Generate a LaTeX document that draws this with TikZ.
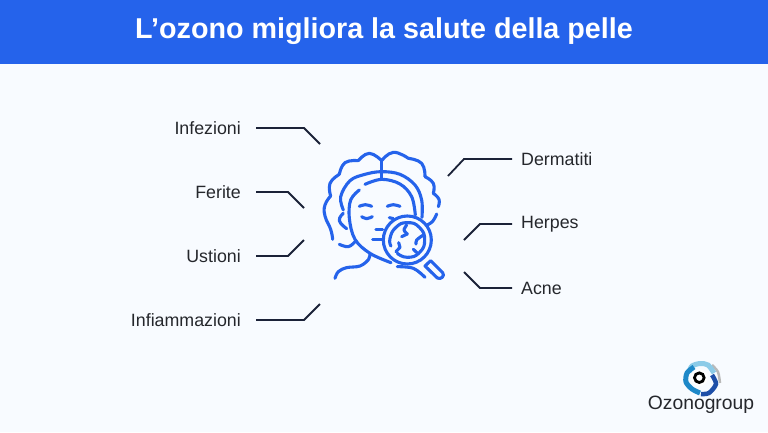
\documentclass[tikz,border=0pt]{standalone}
\usepackage{fontspec}
\setmainfont{Liberation Sans}
\usepackage{tikz}
\definecolor{headblue}{HTML}{2563EB}
\definecolor{pageback}{HTML}{F8FBFF}
\definecolor{wirenavy}{HTML}{1B2238}
\definecolor{labelgrey}{HTML}{25272C}
\definecolor{logolight}{HTML}{8CCBE8}
\definecolor{logomid}{HTML}{1E88C8}
\definecolor{logodark}{HTML}{1E4FA8}
\tikzset{
  lblleft/.style={anchor=east, inner xsep=15pt, inner ysep=0pt, text=labelgrey, font=\fontsize{17.8}{20}\selectfont},
  lblright/.style={anchor=west, inner xsep=9pt, inner ysep=0pt, text=labelgrey, font=\fontsize{17.8}{20}\selectfont},
  wire/.style={draw=wirenavy, line width=1.8pt},
  icon/.style={draw=headblue, line width=3.1pt, line cap=round, line join=round}
}

\begin{document}
\begin{tikzpicture}[x=1pt,y=-1pt]
\useasboundingbox (0,0) rectangle (768,432);
\fill[pageback] (0,0) rectangle (768,432);
\fill[headblue] (0,0) rectangle (768,64);
\node[text=white, font=\fontsize{28.7}{32}\selectfont\bfseries] (title) at (384,31) {L’ozono migliora la salute della pelle};

\node[lblleft] (infezioni) at (256,128) {Infezioni}; \coordinate (infezioniend) at (320,144);
\node[lblleft] (ferite) at (256,192) {Ferite}; \coordinate (feriteend) at (304,208);
\node[lblleft] (ustioni) at (256,256) {Ustioni}; \coordinate (ustioniend) at (304,240);
\node[lblleft] (infiammazioni) at (256,320) {Infiammazioni}; \coordinate (infiammazioniend) at (320,304);
\node[lblright] (dermatiti) at (512,159) {Dermatiti}; \coordinate (dermatitiend) at (448,176);
\node[lblright] (herpes) at (512,224) {Herpes}; \coordinate (herpesend) at (464,240);
\node[lblright] (acne) at (512,288) {Acne}; \coordinate (acneend) at (464,272);

\draw[wire] (infezioni.east) -- ++(48,0) -- (infezioniend);
\draw[wire] (ferite.east) -- ++(32,0) -- (feriteend);
\draw[wire] (ustioni.east) -- ++(32,0) -- (ustioniend);
\draw[wire] (infiammazioni.east) -- ++(48,0) -- (infiammazioniend);
\draw[wire] (dermatiti.west) -- ++(-48,0) -- (dermatitiend);
\draw[wire] (herpes.west) -- ++(-32,0) -- (herpesend);
\draw[wire] (acne.west) -- ++(-32,0) -- (acneend);

% face
\begin{scope}[shift={(310,140)}, x=0.3333pt, y=-0.3333pt]
\draw[icon] plot[smooth, tension=0.8] coordinates {(68,298) (62,268) (45,228) (45,195) (62,168)};
\draw[icon] plot[smooth, tension=0.8] coordinates {(62,168) (60,130) (88,103)};
\draw[icon] plot[smooth, tension=0.8] coordinates {(88,103) (105,68) (145,62)};
\draw[icon] plot[smooth, tension=0.8] coordinates {(145,62) (178,40) (215,62)};
\draw[icon] plot[smooth, tension=0.8] coordinates {(215,62) (250,37) (295,55)};
\draw[icon] plot[smooth, tension=0.8] coordinates {(295,55) (335,70) (345,110)};
\draw[icon] plot[smooth, tension=0.8] coordinates {(345,110) (370,130) (370,160)};
\draw[icon] plot[smooth, tension=0.8] coordinates {(370,160) (387,178) (385,200)};
\draw[icon] (215,62) -- (215,118);
\draw[icon] plot[smooth, tension=0.6] coordinates {(100,210) (92,170) (120,122) (165,103) (215,95) (270,103) (315,135) (335,180) (336,232)};
\draw[icon] plot[smooth, tension=0.6] coordinates {(165,133) (215,118) (270,132) (305,170) (316,225)};
\draw[icon] plot[smooth, tension=0.6] coordinates {(148,150) (122,180) (118,235) (135,298) (180,340) (243,368)};
\draw[icon] plot[smooth, tension=0.8] coordinates {(100,220) (88,242) (110,266)};
\draw[icon] plot[smooth, tension=0.6] coordinates {(180,340) (176,358) (150,378) (110,383) (85,395) (75,415)};
\draw[icon] plot[smooth, tension=0.7] coordinates {(88,313) (115,320) (135,305)};
\draw[icon] plot[smooth, tension=0.7] coordinates {(380,222) (367,245) (345,258)};
\draw[icon] plot[smooth, tension=0.7] coordinates {(148,199) (166,194) (185,199)};
\draw[icon] plot[smooth, tension=0.7] coordinates {(232,199) (250,194) (270,199)};
\draw[icon] plot[smooth, tension=0.7] coordinates {(155,230) (170,236) (187,230)};
\draw[icon] (238,233) -- (250,236);
\draw[icon] (198,268) -- (218,268);
\draw[icon] (188,298) -- (216,298);
% lens
\fill[pageback] (292,300) circle (24pt);
\draw[icon] (292,300) circle (24pt);
\draw[icon] plot[smooth, tension=0.9] coordinates {(243,318) (240,295) (258,262) (292,248) (328,262) (344,300) (328,338) (292,352) (262,340)};
\draw[icon] plot[smooth, tension=0.6] coordinates {(262,380) (310,385) (345,412)};
\draw[icon] (345,378) -- (362,362) -- (398,398) .. controls (406,408) and (392,420) .. (382,414) -- cycle;
% cracks
\draw[icon] plot[smooth, tension=0.5] coordinates {(290,255) (282,270) (292,282)};
\draw[icon] (275,290) -- (292,282);
\draw[icon] plot[smooth, tension=0.5] coordinates {(340,285) (320,300) (318,312)};
\draw[icon] (266,308) -- (270,322) -- (258,335);
\draw[icon] (310,328) -- (325,342);
\end{scope}

% logo
\draw[gray!55, line width=2.5pt] plot[smooth] coordinates {(712,365) (718,372) (720,383)};
\draw[logolight, line width=5pt] plot[smooth] coordinates {(689,372) (692,366) (700,363.5) (708,365) (714,373)};
\draw[logomid, line width=5pt] plot[smooth] coordinates {(694,367) (687,373) (686,382) (692,389) (700,393)};
\draw[logodark, line width=4.5pt] plot[smooth] coordinates {(712,375) (716,384) (709,393) (701,394)};
\fill[white] (699.3,377.7) circle (8.5pt);
\draw[black, line width=2.8pt] (699.3,377.7) circle (4.8pt);
\node[text=labelgrey, font=\fontsize{19.3}{22}\selectfont] (ozonogroup) at (701,405) {Ozonogroup};
\end{tikzpicture}
\end{document}
